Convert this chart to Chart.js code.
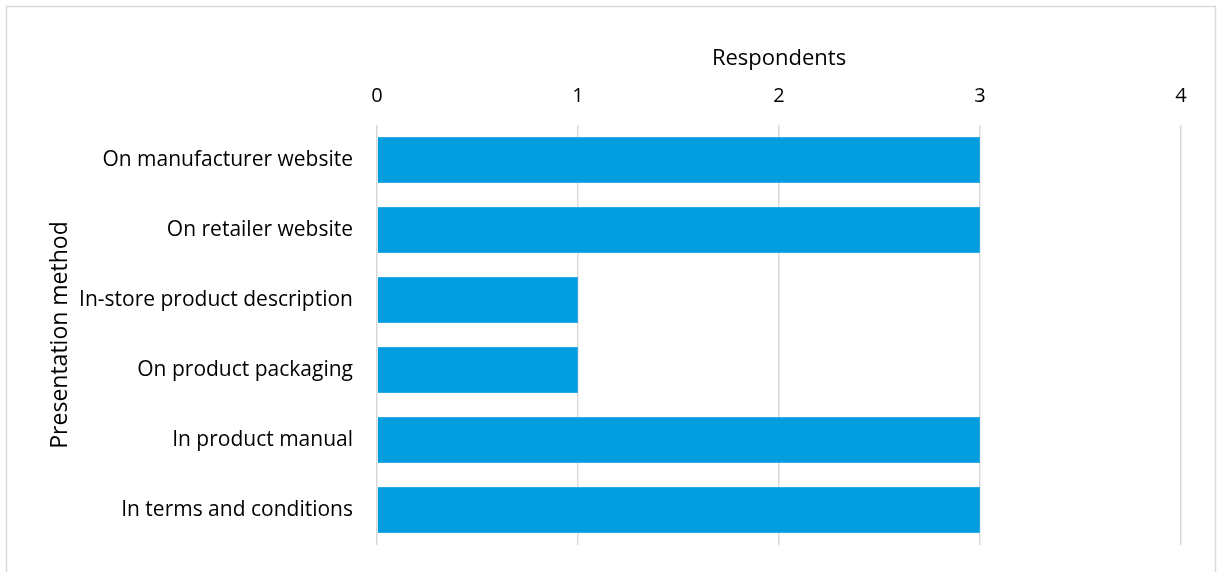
<!DOCTYPE html>
<html>
<head>
<meta charset="utf-8">
<script src="https://cdn.jsdelivr.net/npm/chart.js@4.4.1/dist/chart.umd.min.js"></script>
<style>
  html, body { margin: 0; padding: 0; background: #fff; }
  #wrap { width: 1218px; height: 572px; }
</style>
</head>
<body>
<div id="wrap"><canvas id="grafico" width="1218" height="572"></canvas></div>
<script>
const categorias = [
  'On manufacturer website',
  'On retailer website',
  'In-store product description',
  'On product packaging',
  'In product manual',
  'In terms and conditions'
];
const respuestas = [3, 3, 1, 1, 3, 3];
const ticksX = [0, 1, 2, 3, 4];

const fuente = "'Open Sans', sans-serif";

// marco gris alrededor de todo el gráfico
const marco = {
  id: 'marco',
  beforeDraw(chart) {
    const ctx = chart.ctx;
    ctx.save();
    ctx.strokeStyle = '#d9d9d9';
    ctx.lineWidth = 1.5;
    ctx.strokeRect(6.5, 6.5, 1209, 570);
    ctx.restore();
  }
};

const ctx = document.getElementById('grafico').getContext('2d');
const miGrafico = new Chart(ctx, {
  type: 'bar',
  data: {
    labels: categorias,
    datasets: [{
      label: 'Respondents',
      data: respuestas,
      backgroundColor: '#029dde',
      borderColor: '#2aa9e2',
      borderWidth: 1,
      barPercentage: 0.66,
      categoryPercentage: 1
    }]
  },
  options: {
    indexAxis: 'y',
    responsive: false,
    animation: false,
    layout: { padding: { left: 0, right: 37, top: 0, bottom: 27 } },
    plugins: {
      legend: { display: false },
      tooltip: { enabled: false }
    },
    scales: {
      x: {
        position: 'top',
        min: 0,
        max: 4,
        afterBuildTicks(scale) {
          scale.ticks = ticksX.map(v => ({ value: v }));
        },
        afterFit(scale) { scale.height = 125; },
        grid: { color: '#d9d9d9', lineWidth: 1.5, drawTicks: false },
        border: { display: false },
        ticks: { color: '#000', font: { family: fuente, size: 20 }, padding: 17 },
        title: {
          display: true,
          text: 'Respondents',
          color: '#000',
          font: { family: fuente, size: 22 },
          padding: { top: 46, bottom: 0 }
        }
      },
      y: {
        afterFit(scale) {
          scale.width = 377;
          scale.paddingTop = 0;
          scale.paddingBottom = 0;
        },
        grid: { display: false, drawTicks: false },
        border: { display: false },
        ticks: { color: '#000', font: { family: fuente, size: 21 }, padding: 24 },
        title: {
          display: true,
          text: 'Presentation method',
          color: '#000',
          font: { family: fuente, size: 23 },
          padding: { top: 47, bottom: 0 }
        }
      }
    }
  },
  plugins: [marco]
});
</script>
</body>
</html>
